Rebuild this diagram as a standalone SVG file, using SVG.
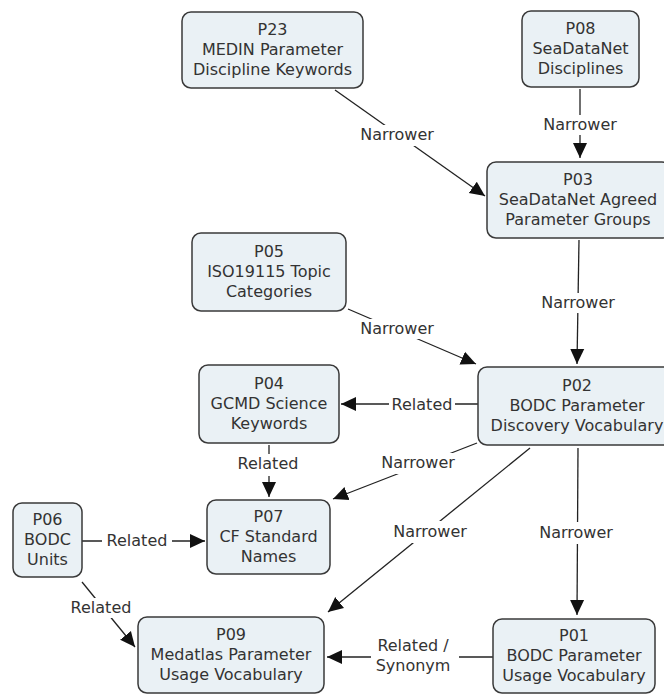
<svg xmlns="http://www.w3.org/2000/svg" width="664" height="695" viewBox="0 0 664 695">
<defs>
<marker id="arr" markerUnits="userSpaceOnUse" markerWidth="16" markerHeight="16" viewBox="0 0 16 16" refX="15" refY="8" orient="auto">
<path d="M0,1 L15,8 L0,15 Z" fill="#111"/>
</marker>
<style>
.node rect{fill:#eaf1f5;stroke:#3a3a3a;stroke-width:1.5}
.node text{font-family:"DejaVu Sans",Verdana,sans-serif;font-size:16px;fill:#333;text-anchor:middle}
.edge line{stroke:#222;stroke-width:1.3;fill:none}
.edge .arrow{marker-end:url(#arr)}
.lbg{fill:#fff;stroke:none}
.lbl{font-family:"DejaVu Sans",Verdana,sans-serif;font-size:16px;fill:#333;text-anchor:middle}
</style>
</defs>
<rect width="664" height="695" fill="#fff"/>
<g id="connectors" class="edge">
<g id="e-p23-p03"><line class="arrow" x1="335" y1="90" x2="485" y2="196"/><rect class="lbg" x="358" y="125" width="78" height="21"/><text class="lbl" x="397" y="140">Narrower</text></g>
<g id="e-p08-p03"><line class="arrow" x1="580" y1="89" x2="580" y2="158"/><rect class="lbg" x="540" y="115" width="80" height="20"/><text class="lbl" x="580" y="130">Narrower</text></g>
<g id="e-p03-p02"><line class="arrow" x1="579" y1="240" x2="577" y2="364"/><rect class="lbg" x="538" y="293" width="80" height="20"/><text class="lbl" x="578" y="308">Narrower</text></g>
<g id="e-p05-p02"><line class="arrow" x1="348" y1="309" x2="476" y2="364"/><rect class="lbg" x="358" y="319" width="78" height="20"/><text class="lbl" x="397" y="334">Narrower</text></g>
<g id="e-p02-p04"><line class="arrow" x1="478" y1="404" x2="341" y2="404"/><rect class="lbg" x="389" y="394" width="66" height="20"/><text class="lbl" x="422" y="409.5">Related</text></g>
<g id="e-p04-p07"><line class="arrow" x1="269" y1="445" x2="269" y2="497"/><rect class="lbg" x="236" y="454" width="66" height="22"/><text class="lbl" x="268" y="469">Related</text></g>
<g id="e-p02-p07"><line class="arrow" x1="477" y1="443" x2="333" y2="499"/><rect class="lbg" x="378" y="453" width="80" height="21"/><text class="lbl" x="418" y="468">Narrower</text></g>
<g id="e-p02-p09"><line class="arrow" x1="530" y1="448" x2="328" y2="612"/><rect class="lbg" x="390" y="521" width="80" height="22"/><text class="lbl" x="430" y="537">Narrower</text></g>
<g id="e-p02-p01"><line class="arrow" x1="578" y1="448" x2="577" y2="615"/><rect class="lbg" x="536" y="522" width="82" height="22"/><text class="lbl" x="576" y="538">Narrower</text></g>
<g id="e-p06-p07"><line class="arrow" x1="82" y1="541" x2="205" y2="541"/><rect class="lbg" x="102" y="531" width="70" height="20"/><text class="lbl" x="137" y="546">Related</text></g>
<g id="e-p06-p09"><line class="arrow" x1="82" y1="582" x2="135" y2="647"/><rect class="lbg" x="68" y="598" width="66" height="20"/><text class="lbl" x="101" y="613">Related</text></g>
<g id="e-p01-p09"><line class="arrow" x1="493" y1="657" x2="327" y2="657"/><rect class="lbg" x="371" y="634" width="88" height="42"/><text class="lbl" x="413" y="651">Related /</text><text class="lbl" x="413" y="671">Synonym</text></g>
</g>
<g id="P23" class="node"><rect x="182" y="12" width="181" height="76" rx="9"/><text x="272.5" y="35">P23</text><text x="272.5" y="55">MEDIN Parameter</text><text x="272.5" y="75">Discipline Keywords</text></g>
<g id="P08" class="node"><rect x="522" y="11" width="117" height="76" rx="9"/><text x="580.5" y="34">P08</text><text x="580.5" y="54">SeaDataNet</text><text x="580.5" y="74">Disciplines</text></g>
<g id="P03" class="node"><rect x="487" y="162" width="184" height="76" rx="9"/><text x="578" y="185">P03</text><text x="578" y="205">SeaDataNet Agreed</text><text x="578" y="225">Parameter Groups</text></g>
<g id="P05" class="node"><rect x="192" y="233" width="154" height="78" rx="9"/><text x="269" y="257">P05</text><text x="269" y="277">ISO19115 Topic</text><text x="269" y="297">Categories</text></g>
<g id="P04" class="node"><rect x="199" y="365" width="140" height="78" rx="9"/><text x="269" y="389">P04</text><text x="269" y="409">GCMD Science</text><text x="269" y="429">Keywords</text></g>
<g id="P02" class="node"><rect x="478" y="367" width="198" height="78" rx="9"/><text x="577" y="391">P02</text><text x="577" y="411">BODC Parameter</text><text x="577" y="431">Discovery Vocabulary</text></g>
<g id="P06" class="node"><rect x="13" y="503" width="69" height="74" rx="9"/><text x="47.5" y="525">P06</text><text x="47.5" y="545">BODC</text><text x="47.5" y="565">Units</text></g>
<g id="P07" class="node"><rect x="207" y="500" width="123" height="74" rx="9"/><text x="268.5" y="522">P07</text><text x="268.5" y="542">CF Standard</text><text x="268.5" y="562">Names</text></g>
<g id="P09" class="node"><rect x="138" y="617" width="186" height="76" rx="9"/><text x="231" y="640">P09</text><text x="231" y="660">Medatlas Parameter</text><text x="231" y="680">Usage Vocabulary</text></g>
<g id="P01" class="node"><rect x="493" y="619" width="162" height="74" rx="9"/><text x="574" y="641">P01</text><text x="574" y="661">BODC Parameter</text><text x="574" y="681">Usage Vocabulary</text></g>
</svg>
